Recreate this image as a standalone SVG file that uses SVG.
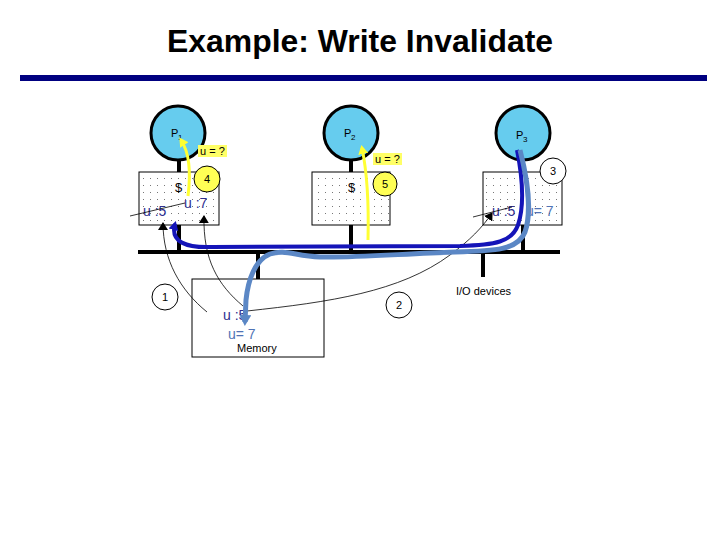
<svg xmlns="http://www.w3.org/2000/svg" width="720" height="540" viewBox="0 0 720 540">
<style>
.t{font-family:"Liberation Sans",Arial,sans-serif;fill:#000}
.s{font-size:11px}
.proc{fill:#66CCEE;stroke:#000;stroke-width:3}
.cache{fill:url(#dots);stroke:#000;stroke-width:1}
.wire{stroke:#000;stroke-width:4;fill:none}
.num{fill:#fff;stroke:#000;stroke-width:1}
.ynum{fill:#FFFF55;stroke:#000;stroke-width:1}
.thin{stroke:#000;stroke-width:0.8;fill:none}
.dk{fill:#2E2E8E;font-size:14px}
.lt{fill:#4F73B5;font-size:14px}
</style>
<defs>
<pattern id="dots" width="7" height="7" patternUnits="userSpaceOnUse">
<rect width="7" height="7" fill="#fff"/>
<rect x="3" y="3" width="1" height="1" fill="#777"/>
</pattern>
<marker id="ab" markerWidth="8" markerHeight="10" refX="7" refY="5" orient="auto" markerUnits="userSpaceOnUse"><path d="M0,0 L8,5 L0,10 z" fill="#000"/></marker>
<marker id="adb" markerWidth="10" markerHeight="10" refX="6" refY="5" orient="auto" markerUnits="userSpaceOnUse"><path d="M0,0 L9,5 L0,10 z" fill="#1414B8"/></marker>
<marker id="alb" markerWidth="12" markerHeight="12" refX="7" refY="6" orient="auto" markerUnits="userSpaceOnUse"><path d="M0,0 L11,6 L0,12 z" fill="#5B87C5"/></marker>
<marker id="ay" markerWidth="10" markerHeight="10" refX="6" refY="5" orient="auto" markerUnits="userSpaceOnUse"><path d="M0,0 L9,5 L0,10 z" fill="#FFFF33"/></marker>
</defs>
<rect width="720" height="540" fill="#fff"/>
<text class="t" x="360" y="52" text-anchor="middle" font-family="'Open Sans',sans-serif" font-weight="bold" font-size="32" textLength="386" lengthAdjust="spacingAndGlyphs">Example: Write Invalidate</text>
<rect x="20" y="75" width="687" height="6" fill="#000080"/>

<g id="bus">
<line class="wire" x1="138" y1="252" x2="560" y2="252"/>
<line class="wire" x1="179" y1="160" x2="179" y2="172"/>
<line class="wire" x1="179" y1="225" x2="179" y2="252"/>
<line class="wire" x1="351" y1="160" x2="351" y2="172"/>
<line class="wire" x1="351" y1="225" x2="351" y2="252"/>
<line class="wire" x1="523" y1="160" x2="523" y2="172"/>
<line class="wire" x1="523" y1="225" x2="523" y2="252"/>
<line class="wire" x1="258" y1="252" x2="258" y2="279"/>
<line class="wire" x1="483" y1="252" x2="483" y2="277"/>
</g>

<g id="P1">
<circle class="proc" cx="178" cy="133" r="27"/>
<text class="t s" x="171" y="137">P</text><text class="t" x="178" y="140" font-size="8">1</text>
</g>
<g id="cache1">
<rect class="cache" x="139" y="172" width="80" height="53"/>
<text class="t" x="175" y="192" font-size="13">$</text>
<text class="t dk" x="143" y="216">u :5</text>
<text class="t dk" x="184" y="208">u :7</text>
</g>
<g id="P2">
<circle class="proc" cx="351" cy="133" r="27"/>
<text class="t s" x="344" y="137">P</text><text class="t" x="351" y="140" font-size="8">2</text>
</g>
<g id="cache2">
<rect class="cache" x="312" y="172" width="78" height="53"/>
<text class="t" x="348" y="192" font-size="13">$</text>
</g>
<g id="P3">
<circle class="proc" cx="523" cy="133" r="27"/>
<text class="t s" x="516" y="139">P</text><text class="t" x="523" y="142" font-size="8">3</text>
</g>
<g id="cache3">
<rect class="cache" x="483" y="172" width="79" height="53"/>
<text class="t dk" x="492" y="216">u :5</text>
<text class="t lt" x="526" y="216">u= 7</text>
</g>
<g id="memory">
<rect x="192" y="279" width="132" height="78" fill="#fff" stroke="#000" stroke-width="1"/>
<text class="t dk" x="223" y="320" font-size="15">u :5</text>
<text class="t lt" x="228" y="339" font-size="15">u= 7</text>
<text class="t s" x="237" y="352">Memory</text>
</g>
<g id="io">
<text class="t s" x="456" y="295">I/O devices</text>
</g>

<g id="connectors">
<line class="thin" x1="130" y1="216" x2="185" y2="203"/>
<line class="thin" x1="473" y1="217" x2="512" y2="207"/>
<path class="thin" d="M207,312 C180,290 163,260 163,223" marker-end="url(#ab)"/>
<path class="thin" d="M243,306 C218,285 203,260 204,216" marker-end="url(#ab)"/>
<path class="thin" d="M247,311 C330,302 400,292 450,255 C470,240 482,228 492,213" marker-end="url(#ab)"/>
<path d="M188,196 C191,172 189,152 181,140" stroke="#FFFF33" stroke-width="3" fill="none" marker-end="url(#ay)"/>
<path d="M368,240 C369,200 367,172 362,148" stroke="#FFFF33" stroke-width="3" fill="none" marker-end="url(#ay)"/>
<path d="M517,150 C524,185 523,210 518,225 C512,242 495,245 460,246 L212,247 C186,248 170,242 175,224" stroke="#1414B8" stroke-width="4" fill="none" marker-end="url(#adb)"/>
<path d="M520,150 C529,185 531,215 525,232 C518,250 495,251 455,252 C400,254 350,258 320,257 C295,256 285,249 270,254 C255,260 248,280 246,300 L245,322" stroke="#5B87C5" stroke-width="5" fill="none" marker-end="url(#alb)"/>
</g>

<g id="labels">
<rect x="198" y="145" width="29" height="12" fill="#FFFF66"/>
<text class="t s" x="200" y="155">u = ?</text>
<rect x="373" y="153" width="29" height="12" fill="#FFFF66"/>
<text class="t s" x="375" y="163">u = ?</text>
<circle class="ynum" cx="207" cy="179" r="13"/><text class="t s" x="207" y="183" text-anchor="middle">4</text>
<circle class="ynum" cx="385" cy="184" r="12"/><text class="t s" x="385" y="188" text-anchor="middle">5</text>
<circle class="num" cx="553" cy="171" r="13"/><text class="t s" x="553" y="175" text-anchor="middle">3</text>
<circle class="num" cx="165" cy="297" r="13"/><text class="t s" x="165" y="301" text-anchor="middle">1</text>
<circle class="num" cx="399" cy="305" r="13"/><text class="t s" x="399" y="309" text-anchor="middle">2</text>
</g>
</svg>
